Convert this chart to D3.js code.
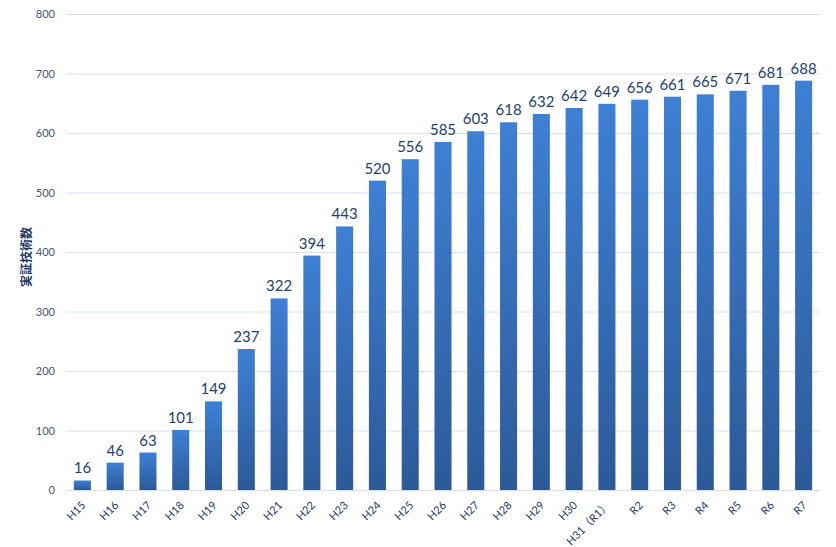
<!DOCTYPE html>
<html>
<head>
<meta charset="utf-8">
<script src="https://cdn.jsdelivr.net/npm/d3@7"></script>
<style>
  body { margin: 0; background: #fff; }
  text { font-family: Lato, "Noto Sans CJK JP", sans-serif; }
</style>
</head>
<body>
<div id="chart"></div>
<script>
// data
var years = ["H15","H16","H17","H18","H19","H20","H21","H22","H23","H24","H25","H26","H27","H28","H29","H30","H31（R1）","R2","R3","R4","R5","R6","R7"];
var counts = [16,46,63,101,149,237,322,394,443,520,556,585,603,618,632,642,649,656,661,665,671,681,688];
var yTicks = [0,100,200,300,400,500,600,700,800];

var W = 836, H = 547;
var margin = {top: 14, right: 16, bottom: 57, left: 66},
    width = W - margin.left - margin.right,
    height = H - margin.top - margin.bottom;

var svg = d3.select("#chart").append("svg")
    .attr("width", W)
    .attr("height", H);

var defs = svg.append("defs");
var grad = defs.append("linearGradient")
    .attr("id", "barGrad")
    .attr("x1", 0).attr("y1", 0).attr("x2", 0).attr("y2", 1);
grad.append("stop").attr("offset", "0%").attr("stop-color", "#3e80d5");
grad.append("stop").attr("offset", "100%").attr("stop-color", "#2c5a98");

var g = svg.append("g")
    .attr("transform", "translate(" + margin.left + "," + margin.top + ")");

var x = d3.scaleBand()
    .domain(years)
    .range([0, width])
    .paddingInner(0.48)
    .paddingOuter(0.24);

var y = d3.scaleLinear()
    .domain([0, 800])
    .range([height, 0]);

// gridlines + y labels
var yAxis = g.append("g")
    .call(d3.axisLeft(y).tickValues(yTicks).tickSize(-width).tickPadding(11));
yAxis.select(".domain").remove();
yAxis.selectAll(".tick line").attr("stroke", "#d6e0ef");
yAxis.selectAll(".tick text")
    .attr("fill", "#44546a")
    .style("font-size", "11px");

// x axis, labels slanted
var xAxis = g.append("g")
    .attr("transform", "translate(0," + height + ")")
    .call(d3.axisBottom(x).tickSize(0));
xAxis.select(".domain").attr("stroke", "#d6e0ef");
xAxis.selectAll(".tick text")
    .attr("fill", "#1f3864")
    .style("font-size", "11px")
    .attr("text-anchor", "end")
    .attr("x", 0)
    .attr("y", 0)
    .attr("dy", 0)
    .attr("transform", "translate(4,16) rotate(-45)");

// bars
g.selectAll(".bar")
    .data(counts)
    .enter().append("rect")
    .attr("class", "bar")
    .attr("x", function(d, i) { return x(years[i]); })
    .attr("y", function(d) { return y(d); })
    .attr("width", x.bandwidth())
    .attr("height", function(d) { return height - y(d); })
    .attr("fill", "url(#barGrad)");

// value labels
g.selectAll(".val")
    .data(counts)
    .enter().append("text")
    .attr("class", "val")
    .attr("x", function(d, i) { return x(years[i]) + x.bandwidth() / 2; })
    .attr("y", function(d) { return y(d) - 7; })
    .attr("text-anchor", "middle")
    .attr("fill", "#243f6e")
    .style("font-size", "15px")
    .text(function(d) { return d; });

// y axis title
svg.append("text")
    .attr("transform", "translate(31,257) rotate(-90)")
    .attr("text-anchor", "middle")
    .attr("fill", "#1f3864")
    .style("font-size", "12px")
    .style("font-weight", "bold")
    .style("font-family", "'Noto Sans CJK JP', sans-serif")
    .text("実証技術数");
</script>
</body>
</html>
